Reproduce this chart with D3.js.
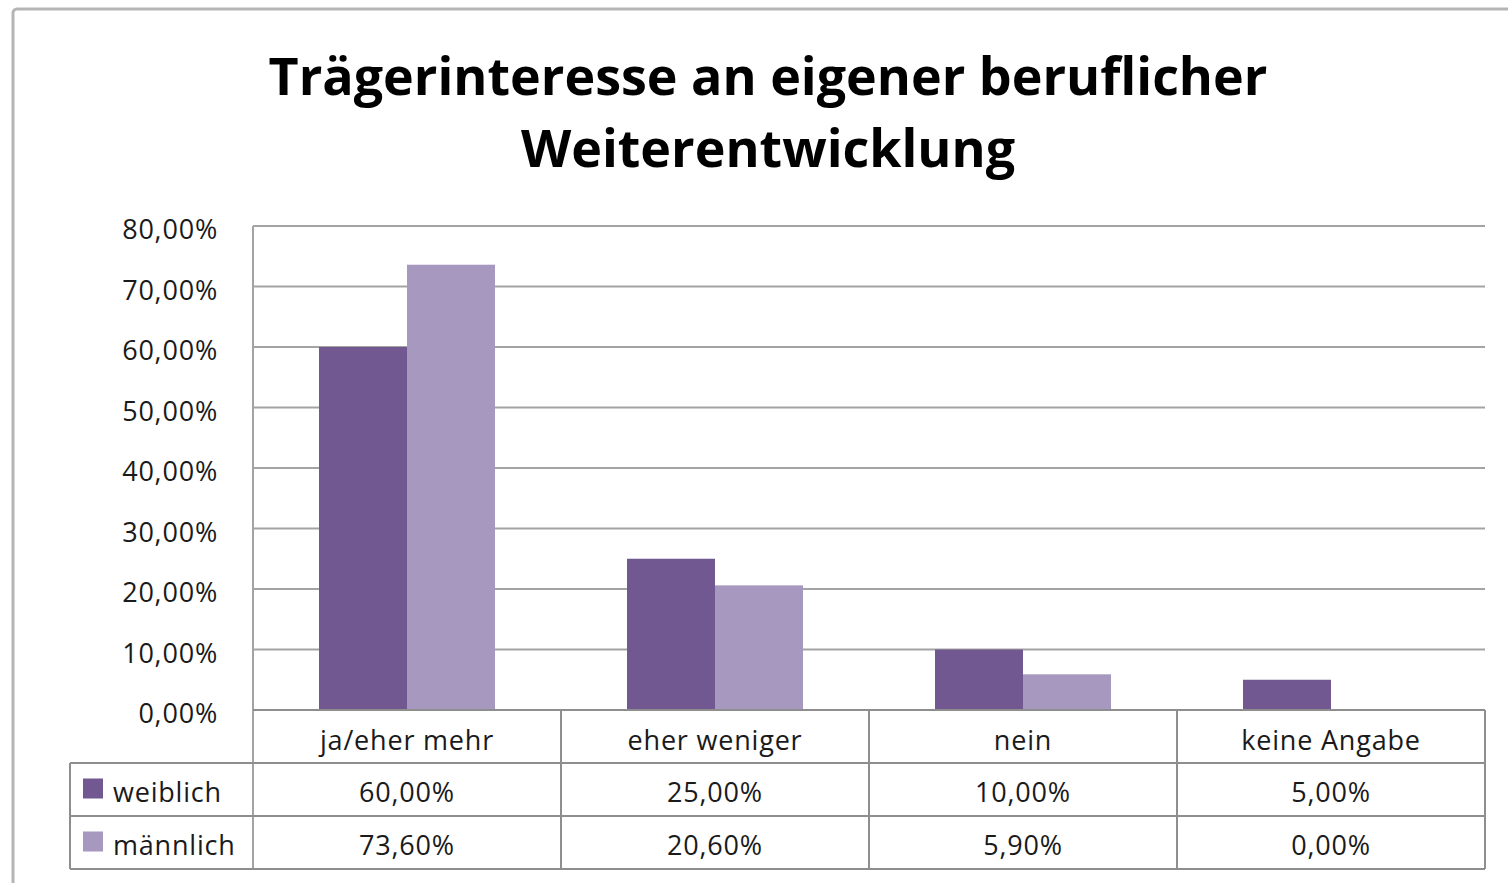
<!DOCTYPE html>
<html>
<head>
<meta charset="utf-8">
<script src="https://cdn.jsdelivr.net/npm/d3@7"></script>
<style>
  body { margin: 0; background: #fff; }
  text { font-family: "Open Sans", "DejaVu Sans", sans-serif; }
</style>
</head>
<body>
<div id="chart"></div>
<script>
const categories = ['ja/eher mehr', 'eher weniger', 'nein', 'keine Angabe'];
const seriesNames = ['weiblich', 'männlich'];
const weiblich = [0.60, 0.25, 0.10, 0.05];
const maennlich = [0.736, 0.206, 0.059, 0.0];
const yTicks = [0, 0.1, 0.2, 0.3, 0.4, 0.5, 0.6, 0.7, 0.8];
const titleLines = ['Trägerinteresse an eigener beruflicher', 'Weiterentwicklung'];

const colors = ['#725890', '#a698bf'];
const gridColor = '#a3a3a3';
const tableColor = '#8e8e8e';
const textColor = '#1a1a1a';

const W = 1508, H = 883;
const plot = { left: 253, right: 1485, top: 226, bottom: 710 };
const rowH = 53;
const tableLeft = 70;

const svg = d3.select('#chart').append('svg')
    .attr('width', W).attr('height', H);

// outer frame (runs off the right and bottom edge)
svg.append('rect')
    .attr('x', 13).attr('y', 9)
    .attr('width', W + 20).attr('height', H + 20)
    .attr('rx', 4)
    .attr('fill', 'none').attr('stroke', '#b5b5b5').attr('stroke-width', 3);

// title
svg.append('g').selectAll('text').data(titleLines).enter()
    .append('text')
    .attr('x', 768).attr('y', (d, i) => 95 + i * 72)
    .attr('text-anchor', 'middle')
    .attr('font-size', 52).attr('font-weight', 'bold')
    .attr('fill', '#000')
    .text(d => d);

const x = d3.scaleBand().domain(categories).range([plot.left, plot.right]);
const x1 = d3.scaleBand().domain(seriesNames).range([0, x.bandwidth()]).paddingOuter(0.75);
const y = d3.scaleLinear().domain([0, 0.8]).range([plot.bottom, plot.top]);

const fmt = v => d3.format('.2f')(v * 100).replace('.', ',') + '%';

// gridlines
svg.append('g').selectAll('line').data(yTicks).enter()
    .append('line')
    .attr('x1', plot.left).attr('x2', plot.right)
    .attr('y1', d => y(d)).attr('y2', d => y(d))
    .attr('stroke', gridColor).attr('stroke-width', 2);

// y axis labels
const yAxis = svg.append('g')
    .attr('transform', `translate(${plot.left},4)`)
    .call(d3.axisLeft(y).tickValues(yTicks).tickFormat(fmt).tickSize(0).tickPadding(35));
yAxis.select('.domain').remove();
yAxis.selectAll('text')
    .attr('font-size', 27).attr('fill', textColor)
    .attr('letter-spacing', 0.8)
    .attr('font-family', '"Open Sans", sans-serif');

// axis line on the left
svg.append('line')
    .attr('x1', plot.left).attr('x2', plot.left)
    .attr('y1', plot.top).attr('y2', plot.bottom + rowH * 3)
    .attr('stroke', gridColor).attr('stroke-width', 2);

// bars
const data = categories.map((c, i) => ({ cat: c, vals: [weiblich[i], maennlich[i]] }));
const groups = svg.append('g').selectAll('g').data(data).enter()
    .append('g').attr('transform', d => `translate(${x(d.cat)},0)`);
groups.selectAll('rect')
    .data(d => d.vals.map((v, i) => ({ name: seriesNames[i], v, i })))
    .enter().append('rect')
    .attr('x', d => x1(d.name))
    .attr('width', x1.bandwidth())
    .attr('y', d => y(d.v))
    .attr('height', d => y(0) - y(d.v))
    .attr('fill', d => colors[d.i]);

// data table
const table = svg.append('g')
    .attr('stroke', tableColor).attr('stroke-width', 2).attr('fill', 'none');
const rowLines = [1, 2, 3];
table.selectAll('line.row').data(rowLines).enter()
    .append('line')
    .attr('x1', tableLeft)
    .attr('x2', plot.right)
    .attr('y1', d => plot.bottom + rowH * d)
    .attr('y2', d => plot.bottom + rowH * d);
table.append('line')
    .attr('x1', plot.left).attr('x2', plot.right)
    .attr('y1', plot.bottom).attr('y2', plot.bottom);
table.selectAll('line.col').data(categories).enter()
    .append('line')
    .attr('x1', d => x(d) + x.bandwidth()).attr('x2', d => x(d) + x.bandwidth())
    .attr('y1', plot.bottom).attr('y2', plot.bottom + rowH * 3);
table.append('line')
    .attr('x1', tableLeft).attr('x2', tableLeft)
    .attr('y1', plot.bottom + rowH).attr('y2', plot.bottom + rowH * 3);

// category labels
svg.append('g').selectAll('text').data(categories).enter()
    .append('text')
    .attr('x', d => x(d) + x.bandwidth() / 2)
    .attr('y', plot.bottom + rowH / 2 + 13)
    .attr('text-anchor', 'middle')
    .attr('font-size', 27).attr('fill', textColor)
    .attr('letter-spacing', 0.8)
    .text(d => d);

// value rows
const rows = [weiblich, maennlich];
rows.forEach((vals, r) => {
    const cy = plot.bottom + rowH * (r + 1) + rowH / 2;
    svg.append('rect')
        .attr('x', 83).attr('y', cy - 11)
        .attr('width', 20).attr('height', 20)
        .attr('fill', colors[r]);
    svg.append('text')
        .attr('x', 113).attr('y', cy + 12)
        .attr('font-size', 27).attr('fill', textColor)
        .attr('letter-spacing', 0.8)
        .text(seriesNames[r]);
    svg.append('g').selectAll('text').data(vals).enter()
        .append('text')
        .attr('x', (d, i) => x(categories[i]) + x.bandwidth() / 2)
        .attr('y', cy + 12)
        .attr('text-anchor', 'middle')
        .attr('font-size', 27).attr('fill', textColor)
        .attr('letter-spacing', 0.8)
        .text(d => fmt(d));
});
</script>
</body>
</html>
